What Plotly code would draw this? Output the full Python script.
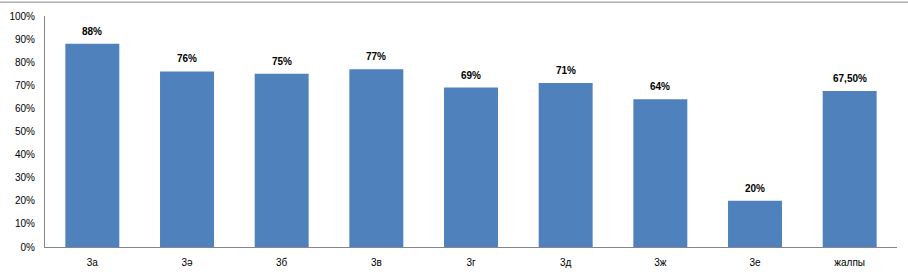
import plotly.graph_objects as go

categories = ["3а", "3ә", "3б", "3в", "3г", "3д", "3ж", "3е", "жалпы"]
values = [0.88, 0.76, 0.75, 0.77, 0.69, 0.71, 0.64, 0.20, 0.675]
labels = ["88%", "76%", "75%", "77%", "69%", "71%", "64%", "20%", "67,50%"]
tick_vals = [i / 10 for i in range(11)]
tick_text = [f"{i*10}%" for i in range(11)]

fig = go.Figure()
fig.add_trace(go.Bar(
    x=categories, y=values,
    marker=dict(color="#4F81BD", line=dict(width=0)),
    width=0.57,
))
for c, v, t in zip(categories, values, labels):
    fig.add_annotation(x=c, y=v, text=t, showarrow=False, yanchor="bottom",
                       yshift=5,
                       font=dict(family="Liberation Sans", size=10,
                                 color="#000000", weight="bold"))
fig.update_layout(
    width=908, height=277,
    margin=dict(l=45, r=11, t=16, b=30),
    plot_bgcolor="white", paper_bgcolor="white",
    showlegend=False,
    font=dict(family="Liberation Sans", size=10, color="#000000"),
)
fig.update_xaxes(showline=True, linecolor="#868686", linewidth=1, ticks="",
                 tickfont=dict(size=10), showgrid=False, ticklabelstandoff=6,
                 automargin=False)
fig.update_yaxes(range=[0, 1], tickvals=tick_vals, ticktext=tick_text,
                 showline=True, linecolor="#868686", linewidth=1, ticks="",
                 showgrid=False, zeroline=False, tickfont=dict(size=10),
                 ticklabelstandoff=7, automargin=False)
fig.add_shape(type="line", xref="paper", yref="paper", x0=-0.06, x1=1.02,
              y0=1.06, y1=1.06, line=dict(color="#868686", width=1))
fig.write_html("out.html")
